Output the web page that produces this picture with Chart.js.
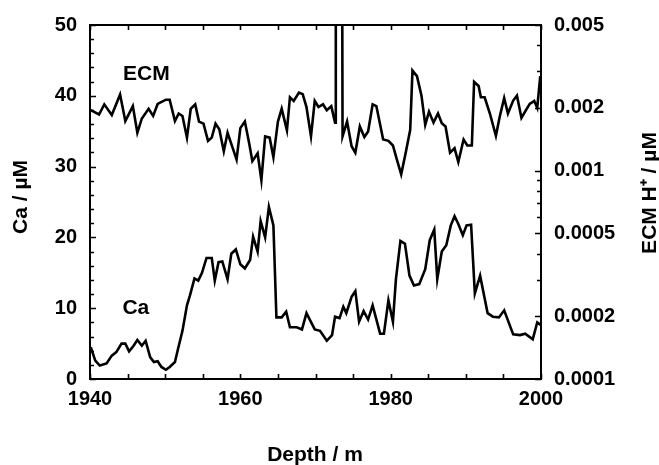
<!DOCTYPE html>
<html>
<head>
<meta charset="utf-8">
<script src="https://cdn.jsdelivr.net/npm/chart.js@4.4.0/dist/chart.umd.min.js"></script>
<style>
  html, body { margin: 0; padding: 0; background: #fff; }
  #wrap { width: 659px; height: 465px; }
</style>
</head>
<body>
<div id="wrap"><canvas id="depthChart" width="659" height="465"></canvas></div>
<script>
// Ca concentration (µM) against depth
var caDepth = [1940.1,1940.7,1941.3,1942.2,1942.9,1943.5,1944.2,1944.7,1945.2,1945.8,1946.3,1946.9,1947.4,1948.0,1948.5,1949.0,1949.5,1950.1,1950.6,1951.3,1951.7,1952.3,1952.9,1953.3,1953.9,1954.4,1954.9,1955.5,1956.2,1956.6,1957.1,1957.6,1958.3,1958.8,1959.4,1960.0,1960.6,1961.3,1961.7,1962.3,1962.7,1963.3,1963.8,1964.4,1964.8,1965.5,1966.1,1966.6,1967.5,1968.2,1968.8,1969.9,1970.6,1971.5,1972.2,1972.6,1973.2,1973.7,1974.1,1974.8,1975.3,1975.8,1976.4,1977.0,1977.6,1978.6,1979.1,1979.7,1980.3,1980.7,1981.3,1981.9,1982.5,1983.1,1983.8,1984.6,1985.2,1985.8,1986.2,1986.8,1987.4,1988.0,1988.5,1989.0,1989.6,1990.1,1990.7,1991.2,1991.9,1992.9,1993.6,1994.4,1995.1,1996.3,1997.2,1997.9,1998.9,1999.5,2000.0];
var caValues = [4.5,2.6,1.9,2.2,3.3,3.8,5.0,5.0,3.9,4.7,5.5,4.7,5.4,3.1,2.4,2.5,1.7,1.3,1.7,2.4,4.2,6.8,10.4,11.8,14.2,13.9,15.0,17.1,17.1,13.9,16.5,16.6,14.1,17.7,18.3,16.2,15.6,16.8,20.1,18.0,22.3,20.0,24.3,21.7,8.7,8.7,9.5,7.3,7.3,7.0,9.3,7.0,6.8,5.4,6.2,8.8,8.6,10.2,9.3,11.6,12.4,8.1,9.6,8.4,10.4,6.4,6.4,11.1,8.1,14.1,19.5,19.1,14.6,13.2,13.4,15.5,19.6,21.1,14.1,18.0,18.9,21.7,23.0,21.9,20.3,21.7,21.8,12.1,14.6,9.3,8.8,8.7,9.7,6.3,6.2,6.4,5.6,8.0,7.6];

// ECM H+ (µM, log axis) against depth
var ecmDepth = [1940.1,1941.2,1941.9,1942.9,1944.0,1944.7,1945.7,1946.3,1946.9,1947.8,1948.4,1949.0,1950.1,1950.6,1951.3,1951.8,1952.3,1952.9,1953.4,1954.0,1954.5,1955.1,1955.7,1956.2,1956.7,1957.2,1957.8,1958.3,1958.9,1959.5,1960.0,1960.6,1961.2,1961.6,1962.3,1962.8,1963.3,1963.9,1964.4,1965.0,1965.5,1966.2,1966.6,1967.1,1967.8,1968.3,1968.8,1969.4,1969.9,1970.4,1971.0,1971.5,1972.1,1972.6,1972.7,1973.5,1973.6,1974.2,1974.8,1975.3,1975.9,1976.5,1977.0,1977.6,1978.1,1979.0,1979.7,1980.3,1980.8,1981.4,1982.0,1982.6,1982.9,1983.5,1984.1,1984.6,1985.1,1985.7,1986.3,1986.8,1987.3,1987.9,1988.5,1989.0,1989.7,1990.2,1990.8,1991.1,1991.7,1992.0,1992.5,1993.2,1994.0,1994.5,1995.1,1995.6,1996.3,1996.8,1997.4,1998.0,1998.5,1999.1,1999.5,1999.9];
var ecmValues = [0.00195,0.00186,0.00208,0.00185,0.00232,0.00173,0.00204,0.00152,0.00178,0.00198,0.00183,0.00209,0.00219,0.00219,0.00173,0.00188,0.00183,0.00144,0.00198,0.00208,0.00172,0.00168,0.00139,0.00144,0.00168,0.00158,0.00124,0.00152,0.00131,0.00113,0.00160,0.00172,0.00134,0.00111,0.00121,0.00090,0.00146,0.00144,0.00116,0.00172,0.00198,0.00156,0.00225,0.00216,0.00237,0.00233,0.00202,0.00146,0.00216,0.00202,0.00208,0.00195,0.00204,0.00170,0.05,0.05,0.00146,0.00172,0.00131,0.00122,0.00163,0.00145,0.00154,0.00208,0.00204,0.00141,0.00139,0.00132,0.00114,0.00096,0.00122,0.00157,0.00302,0.00284,0.00229,0.00166,0.00192,0.00170,0.00188,0.00169,0.00163,0.00122,0.00128,0.00110,0.00141,0.00132,0.00132,0.00267,0.00255,0.00225,0.00225,0.00188,0.00147,0.00181,0.00223,0.00188,0.00217,0.00229,0.00179,0.00195,0.00209,0.00216,0.00200,0.00284];

// axis ticks
var depthLabels = [1940, 1960, 1980, 2000];
var caTicks = [0, 10, 20, 30, 40, 50];
var ecmTicks = [0.0001, 0.0002, 0.0005, 0.001, 0.002, 0.005];

var FONT = "'Liberation Sans', Arial, sans-serif";
var tickFont = { family: FONT, size: 20, weight: 'bold' };

function pairs(xs, ys) {
  return xs.map(function (x, i) { return { x: x, y: ys[i] }; });
}

// frame, inward tick marks, axis titles and series names
var framePlugin = {
  id: 'frame',
  afterDraw: function (chart) {
    var ctx = chart.ctx, a = chart.chartArea, s = chart.scales;
    ctx.save();
    ctx.strokeStyle = '#000';
    ctx.lineWidth = 1.6;
    ctx.beginPath();
    var d, v, p, e, m;
    for (d = 1940; d <= 2000; d += 5) {
      p = Math.round(s.x.getPixelForValue(d)) + 0.5;
      ctx.moveTo(p, a.bottom); ctx.lineTo(p, a.bottom - 5);
      ctx.moveTo(p, a.top); ctx.lineTo(p, a.top + 5);
    }
    for (v = 0; v <= 50; v += 2) {
      p = Math.round(s.y.getPixelForValue(v)) + 0.5;
      ctx.moveTo(a.left, p); ctx.lineTo(a.left + (v % 10 === 0 ? 6 : 4), p);
    }
    for (e = -4; e <= -3; e++) {
      for (m = 1; m <= 9; m++) {
        v = m * Math.pow(10, e);
        if (v > 0.0050001) break;
        p = Math.round(s.y2.getPixelForValue(v)) + 0.5;
        ctx.moveTo(a.right, p); ctx.lineTo(a.right - (m === 1 || m === 2 || m === 5 ? 6 : 4), p);
      }
    }
    ctx.stroke();
    ctx.lineWidth = 2;
    ctx.strokeRect(a.left, a.top, a.right - a.left, a.bottom - a.top);

    ctx.fillStyle = '#000';
    ctx.font = 'bold 21px ' + FONT;
    ctx.textAlign = 'center';
    ctx.textBaseline = 'middle';
    ctx.fillText('ECM', s.x.getPixelForValue(1947.5), s.y.getPixelForValue(43.1));
    ctx.fillText('Ca', s.x.getPixelForValue(1946.1), s.y.getPixelForValue(10));
    ctx.fillText('Depth / m', 315, 455);

    ctx.save();
    ctx.translate(21, 197);
    ctx.rotate(-Math.PI / 2);
    ctx.fillText('Ca / \u00B5M', 0, 0);
    ctx.restore();

    ctx.save();
    ctx.translate(650, 193);
    ctx.rotate(-Math.PI / 2);
    ctx.fillText('ECM H\u207A / \u00B5M', 0, 0);
    ctx.restore();
    ctx.restore();
  }
};

var ctx = document.getElementById('depthChart').getContext('2d');
var chart = new Chart(ctx, {
  type: 'line',
  data: {
    datasets: [{
      label: 'Ca',
      data: pairs(caDepth, caValues),
      yAxisID: 'y',
      borderColor: '#000',
      borderWidth: 2.6,
      pointRadius: 0,
      tension: 0,
      fill: false
    }, {
      label: 'ECM',
      data: pairs(ecmDepth, ecmValues),
      yAxisID: 'y2',
      borderColor: '#000',
      borderWidth: 2.6,
      pointRadius: 0,
      tension: 0,
      fill: false
    }]
  },
  options: {
    responsive: false,
    animation: false,
    layout: { padding: { top: 16, left: 0, right: 0, bottom: 0 } },
    plugins: { legend: { display: false }, tooltip: { enabled: false } },
    scales: {
      x: {
        type: 'linear',
        min: 1940,
        max: 2000,
        afterBuildTicks: function (scale) {
          scale.ticks = depthLabels.map(function (v) { return { value: v }; });
        },
        afterFit: function (scale) { scale.height = 86; },
        grid: { display: false, drawTicks: false },
        border: { display: false },
        ticks: {
          padding: 8,
          color: '#000',
          font: tickFont,
          callback: function (v) { return String(v); }
        }
      },
      y: {
        position: 'left',
        min: 0,
        max: 50,
        afterBuildTicks: function (scale) {
          scale.ticks = caTicks.map(function (v) { return { value: v }; });
        },
        afterFit: function (scale) { scale.width = 90; },
        grid: { display: false, drawTicks: false },
        border: { display: false },
        ticks: { padding: 13, color: '#000', font: tickFont }
      },
      y2: {
        type: 'logarithmic',
        position: 'right',
        min: 0.0001,
        max: 0.005,
        afterBuildTicks: function (scale) {
          scale.ticks = ecmTicks.map(function (v) { return { value: v }; });
        },
        afterFit: function (scale) { scale.width = 118; },
        grid: { display: false, drawTicks: false },
        border: { display: false },
        ticks: {
          padding: 13,
          color: '#000',
          font: tickFont,
          callback: function (v) { return String(v); }
        }
      }
    }
  },
  plugins: [framePlugin]
});
</script>
</body>
</html>
